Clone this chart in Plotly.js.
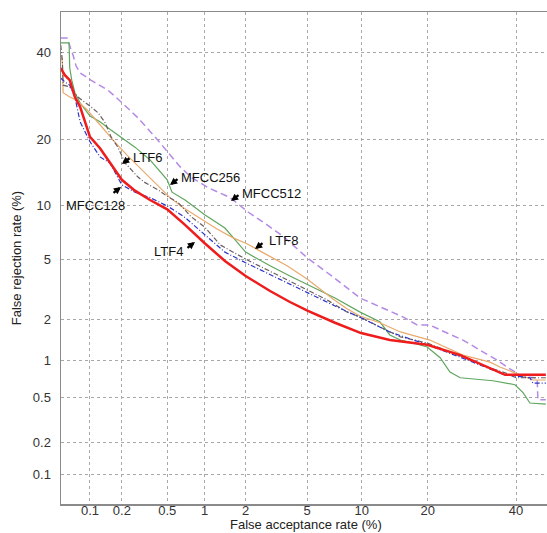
<!DOCTYPE html>
<html><head><meta charset="utf-8">
<script src="https://cdn.plot.ly/plotly-3.0.1.min.js"></script>
<style>html,body{margin:0;padding:0;background:#fff}#chart{width:547px;height:533px}</style>
</head><body><div id="chart"></div>
<script>
// Tick positions (percent) and labels
const tickPct = [0.1, 0.2, 0.5, 1, 2, 5, 10, 20, 40];
const tickLabels = ["0.1", "0.2", "0.5", "1", "2", "5", "10", "20", "40"];

// Series: false acceptance rate (%) vs false rejection rate (%)
const mfcc512_far = [0.051,0.059,0.063,0.068,0.073,0.080,0.102,0.149,0.197,0.28,0.394,0.507,0.637,0.781,1.06,1.55,2.08,2.8,3.55,5.0,7.05,9.81,12.3,15.7,18.1,20.4,23.8,27.2,31.1,35.2,37.7,41.8,45.5,45.7,47.8];
const mfcc512_frr = [43.7,43.7,41.6,39.2,36.4,34.7,32.9,30.5,27.8,24.3,20.5,17.6,15.3,13.7,12.2,10.9,9.2,7.85,6.8,5.1,3.88,2.83,2.46,2.1,1.84,1.84,1.61,1.43,1.2,1.01,0.89,0.74,0.73,0.48,0.48];

const mfcc256_far = [0.051,0.062,0.063,0.066,0.071,0.080,0.1,0.125,0.155,0.2,0.263,0.357,0.5,0.548,0.70,1.0,1.42,2.0,2.93,3.93,5.06,7.23,9.93,12.3,13.7,15.3,17.4,19.9,22.4,24.4,26.6,34.2,39.7,41.8,43.6,47.8];
const mfcc256_frr = [42.4,42.4,35.9,32.9,29.9,27.6,24.7,23.5,22.0,20.3,18.6,16.4,13.3,11.6,10.6,8.9,7.55,5.5,4.55,3.93,3.45,2.83,2.25,1.94,1.56,1.43,1.36,1.27,1.05,0.81,0.73,0.69,0.64,0.55,0.45,0.44];

const ltf8_far = [0.051,0.053,0.054,0.063,0.074,0.094,0.125,0.166,0.223,0.292,0.41,0.527,0.674,0.92,1.24,1.63,2.04,2.8,3.77,5.0,5.95,7.05,8.39,9.81,12.3,15.3,20.4,23.8,27.2,33.5,35.9,39.2,41.0,44.4,47.8];
const ltf8_frr = [39.2,37.4,29.9,28.9,28.2,26.0,22.9,19.9,17.2,15.1,12.6,10.9,9.7,8.5,7.45,6.65,6.15,5.3,4.55,3.77,3.25,2.79,2.39,2.13,1.91,1.64,1.43,1.25,1.1,0.97,0.89,0.81,0.77,0.70,0.70];

const ltf6_far = [0.051,0.053,0.054,0.063,0.076,0.089,0.102,0.12,0.14,0.159,0.184,0.214,0.242,0.28,0.323,0.418,0.507,0.614,0.781,1.0,1.31,2.04,2.8,3.77,5.0,6.52,8.39,9.81,12.3,15.3,19.9,26.6,33.5,37.2,40,47.8];
const ltf6_frr = [41.8,37.9,31.7,31.3,28.9,27.6,26.7,25.4,23.3,20.5,18.6,15.9,14.8,13.7,12.9,11.9,11.0,10.3,8.7,7.65,6.06,4.95,4.3,3.71,3.2,2.75,2.27,2.1,1.78,1.51,1.36,1.08,0.875,0.80,0.73,0.73];

const mfcc128_far = [0.051,0.056,0.063,0.071,0.080,0.1,0.125,0.155,0.2,0.263,0.357,0.5,0.70,1.0,1.42,2.0,2.93,3.93,5.06,7.23,9.93,13.7,19.9,26.6,33.5,37.2,43.6,44.4,47.8];
const mfcc128_frr = [33.4,32.5,31.7,28.9,23.5,19.6,16.9,15.9,12.6,11.6,10.9,9.9,8.6,6.9,5.5,4.75,4.0,3.5,3.06,2.5,2.07,1.64,1.32,1.06,0.86,0.77,0.73,0.66,0.66];

const ltf4_far = [0.051,0.056,0.063,0.071,0.080,0.1,0.125,0.155,0.2,0.263,0.357,0.5,0.70,1.0,1.42,2.0,2.93,3.93,5.06,7.23,9.93,13.7,19.9,26.6,33.5,37.2,47.8];
const ltf4_frr = [35.9,34.2,32.9,28.9,26.7,20.5,18.4,15.9,13.3,11.8,10.6,9.5,7.85,6.2,4.87,3.93,3.15,2.66,2.31,1.91,1.61,1.43,1.32,1.1,0.875,0.77,0.77];

// Inverse standard normal CDF (Acklam), input in percent
function probit(pct) {
  const p = pct / 100;
  const a = [-3.969683028665376e+01, 2.209460984245205e+02, -2.759285104469687e+02, 1.383577518672690e+02, -3.066479806614716e+01, 2.506628277459239e+00];
  const b = [-5.447609879822406e+01, 1.615858368580409e+02, -1.556989798598866e+02, 6.680131188771972e+01, -1.328068155288572e+01];
  const c = [-7.784894002430293e-03, -3.223964580411365e-01, -2.400758277161838e+00, -2.549732539343734e+00, 4.374664141464968e+00, 2.938163982698783e+00];
  const d = [7.784695709041462e-03, 3.224671290700398e-01, 2.445134137142996e+00, 3.754408661907416e+00];
  const pl = 0.02425, ph = 1 - pl;
  let q, r;
  if (p < pl) {
    q = Math.sqrt(-2 * Math.log(p));
    return (((((c[0]*q+c[1])*q+c[2])*q+c[3])*q+c[4])*q+c[5]) / ((((d[0]*q+d[1])*q+d[2])*q+d[3])*q+1);
  } else if (p <= ph) {
    q = p - 0.5; r = q * q;
    return (((((a[0]*r+a[1])*r+a[2])*r+a[3])*r+a[4])*r+a[5])*q / (((((b[0]*r+b[1])*r+b[2])*r+b[3])*r+b[4])*r+1);
  } else {
    q = Math.sqrt(-2 * Math.log(1 - p));
    return -(((((c[0]*q+c[1])*q+c[2])*q+c[3])*q+c[4])*q+c[5]) / ((((d[0]*q+d[1])*q+d[2])*q+d[3])*q+1);
  }
}

function tr(name, far, frr, color, width, dash) {
  return {
    type: 'scatter', mode: 'lines', name: name,
    x: far.map(probit), y: frr.map(probit),
    line: {color: color, width: width, dash: dash},
    hoverinfo: 'skip'
  };
}

const data = [
  tr('MFCC512', mfcc512_far, mfcc512_frr, '#b48ae6', 1.5, '7px,4px'),
  tr('MFCC256', mfcc256_far, mfcc256_frr, '#5ea65e', 1.2, 'solid'),
  tr('LTF8', ltf8_far, ltf8_frr, '#e9aa6c', 1.2, 'solid'),
  tr('LTF6', ltf6_far, ltf6_frr, '#6a5e5e', 1.2, '5px,2px,1px,2px'),
  tr('MFCC128', mfcc128_far, mfcc128_frr, '#2f34c8', 1.2, '5px,2px,1px,2px'),
  tr('LTF4', ltf4_far, ltf4_frr, '#ee1c1c', 2.5, 'solid')
];

const fam = '"Liberation Sans", Arial, sans-serif';
const font = {family: fam, size: 13, color: '#111'};

function label(text, x, y) {
  return {text: text, x: x, y: y, xref: 'paper', yref: 'paper', showarrow: false,
          xanchor: 'center', yanchor: 'middle', font: font};
}
function arrow(x, y, ax, ay) {
  return {text: '', x: x, y: y, xref: 'paper', yref: 'paper', showarrow: true,
          ax: ax, ay: ay, axref: 'pixel', ayref: 'pixel',
          arrowhead: 2, arrowsize: 0.6, arrowwidth: 2.4, arrowcolor: '#000', standoff: 0, startstandoff: 0};
}

const annotations = [
  label('LTF6', 0.179, 0.705), arrow(0.1255, 0.691, 9, -7),
  label('MFCC256', 0.3086, 0.6646), arrow(0.2243, 0.6484, 9, -7),
  label('MFCC512', 0.434, 0.632), arrow(0.3498, 0.6159, 9, -7),
  label('MFCC128', 0.072, 0.6077), arrow(0.1235, 0.6443, -9, 7),
  label('LTF4', 0.2222, 0.5142), arrow(0.2757, 0.5325, -9, 7),
  label('LTF8', 0.4568, 0.5346), arrow(0.3992, 0.5183, 9, -7),
  {text: 'False acceptance rate (%)', x: 0.504, y: -0.0417, xref: 'paper', yref: 'paper',
   showarrow: false, xanchor: 'center', yanchor: 'middle', font: {family: fam, size: 13, color: '#222'}}
];

const tickVals = tickPct.map(probit);

const layout = {
  width: 547, height: 533,
  margin: {l: 61, r: 0, t: 12, b: 29},
  paper_bgcolor: '#fff', plot_bgcolor: '#fff',
  showlegend: false,
  font: font,
  xaxis: {
    range: [-3.2831, -0.0474], tickvals: tickVals, ticktext: tickLabels,
    showgrid: true, gridcolor: '#a8a8a8', griddash: 'dot', gridwidth: 1,
    zeroline: false, showline: true, linecolor: '#8a8a8a', linewidth: 1.5, mirror: true,
    ticks: '', ticklabelstandoff: -6,
    tickfont: {family: fam, size: 13, color: '#333'},
    automargin: false, fixedrange: true
  },
  yaxis: {
    range: [-3.2907, 0.0155], tickvals: tickVals, ticktext: tickLabels,
    showgrid: true, gridcolor: '#a8a8a8', griddash: 'dot', gridwidth: 1,
    zeroline: false, showline: true, linecolor: '#8a8a8a', linewidth: 1.5, mirror: false,
    ticks: 'outside', ticklen: 6, tickcolor: 'rgba(0,0,0,0)',
    tickfont: {family: fam, size: 13, color: '#333'},
    title: {text: 'False rejection rate (%)', font: {family: fam, size: 13, color: '#222'}, standoff: 8},
    automargin: false, fixedrange: true
  },
  annotations: annotations
};

Plotly.newPlot('chart', data, layout, {displayModeBar: false, staticPlot: true});
</script>
</body></html>
